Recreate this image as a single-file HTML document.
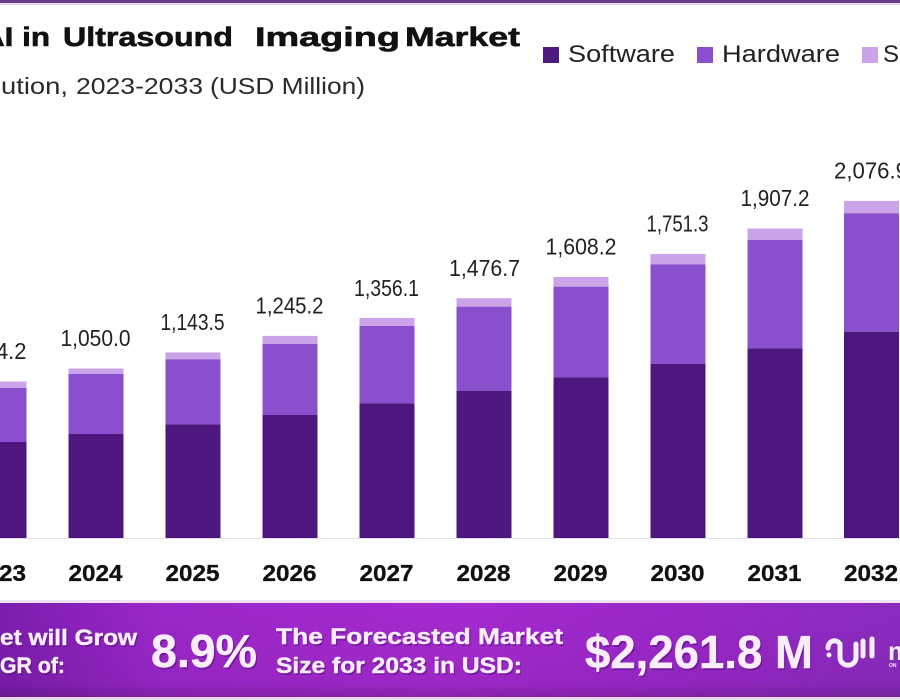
<!DOCTYPE html>
<html>
<head>
<meta charset="utf-8">
<style>
  html,body{margin:0;padding:0;background:#fff;}
  svg{display:block;}
  text{font-family:"Liberation Sans",sans-serif;}
</style>
</head>
<body>
<svg width="900" height="700" viewBox="0 0 900 700" xmlns="http://www.w3.org/2000/svg">
  <defs>
    <linearGradient id="ban" x1="0" y1="0" x2="1" y2="0">
      <stop offset="0" stop-color="#7c1dae"/>
      <stop offset="0.18" stop-color="#9b27c9"/>
      <stop offset="0.5" stop-color="#a52acf"/>
      <stop offset="0.75" stop-color="#9a27c8"/>
      <stop offset="1" stop-color="#8a2bbf"/>
    </linearGradient>
    <linearGradient id="banv" x1="0" y1="0" x2="0" y2="1">
      <stop offset="0" stop-color="#000" stop-opacity="0"/>
      <stop offset="0.85" stop-color="#000" stop-opacity="0.05"/>
      <stop offset="1" stop-color="#000" stop-opacity="0.18"/>
    </linearGradient>
  </defs>

  <rect x="0" y="0" width="900" height="700" fill="#ffffff"/>
  <!-- top border -->
  <rect x="0" y="0" width="900" height="3" fill="#6a3c89"/>
  <rect x="0" y="3" width="900" height="2" fill="#e8d9ef"/>

  <!-- Title -->
  <g font-weight="bold" font-size="27" fill="#111" stroke="#111" stroke-width="0.6">
    <text x="-18" y="46" textLength="68" lengthAdjust="spacingAndGlyphs">AI in</text>
    <text x="63" y="46" textLength="170" lengthAdjust="spacingAndGlyphs">Ultrasound</text>
    <text x="255" y="46" textLength="145" lengthAdjust="spacingAndGlyphs">Imaging</text>
    <text x="405" y="46" textLength="115" lengthAdjust="spacingAndGlyphs">Market</text>
  </g>
  <!-- Subtitle -->
  <g font-size="23" fill="#2a2a2a">
    <text x="0" y="94" text-anchor="end">By Sol</text>
    <text x="1" y="94" textLength="67" lengthAdjust="spacingAndGlyphs">ution,</text>
    <text x="76" y="94" textLength="127" lengthAdjust="spacingAndGlyphs">2023-2033</text>
    <text x="210" y="94" textLength="155" lengthAdjust="spacingAndGlyphs">(USD Million)</text>
  </g>

  <!-- Legend -->
  <rect x="543" y="47" width="16" height="16" fill="#4e1a80"/>
  <text x="568" y="62" font-size="24" fill="#222" textLength="107" lengthAdjust="spacingAndGlyphs">Software</text>
  <rect x="697" y="47" width="16" height="16" fill="#8a4fcc"/>
  <text x="722" y="62" font-size="24" fill="#222" textLength="118" lengthAdjust="spacingAndGlyphs">Hardware</text>
  <rect x="862" y="47" width="16" height="16" fill="#caa3e8"/>
  <text x="883" y="62" font-size="24" fill="#222">Services</text>

  <!-- baseline -->
  <rect x="0" y="538" width="900" height="1" fill="#e2dde6"/>

  <!-- Bars -->
  <g>
    <rect x="-28.5" y="381.5" width="55" height="6.5" fill="#caa3e8"/>
    <rect x="-28.5" y="388" width="55" height="54" fill="#8a4fcc"/>
    <rect x="-28.5" y="442" width="55" height="96" fill="#4e1780"/>
    <rect x="68.5" y="368.5" width="55" height="5.5" fill="#caa3e8"/>
    <rect x="68.5" y="374" width="55" height="60" fill="#8a4fcc"/>
    <rect x="68.5" y="434" width="55" height="104" fill="#4e1780"/>
    <rect x="165.5" y="352.4" width="55" height="6.9" fill="#caa3e8"/>
    <rect x="165.5" y="359.3" width="55" height="65" fill="#8a4fcc"/>
    <rect x="165.5" y="424.3" width="55" height="113.7" fill="#4e1780"/>
    <rect x="262.5" y="335.9" width="55" height="8.1" fill="#caa3e8"/>
    <rect x="262.5" y="344" width="55" height="71" fill="#8a4fcc"/>
    <rect x="262.5" y="415" width="55" height="123" fill="#4e1780"/>
    <rect x="359.5" y="318" width="55" height="8" fill="#caa3e8"/>
    <rect x="359.5" y="326" width="55" height="77.3" fill="#8a4fcc"/>
    <rect x="359.5" y="403.3" width="55" height="134.7" fill="#4e1780"/>
    <rect x="456.5" y="298.3" width="55" height="8.4" fill="#caa3e8"/>
    <rect x="456.5" y="306.7" width="55" height="84" fill="#8a4fcc"/>
    <rect x="456.5" y="390.7" width="55" height="147.3" fill="#4e1780"/>
    <rect x="553.5" y="277" width="55" height="9.7" fill="#caa3e8"/>
    <rect x="553.5" y="286.7" width="55" height="90.6" fill="#8a4fcc"/>
    <rect x="553.5" y="377.3" width="55" height="160.7" fill="#4e1780"/>
    <rect x="650.5" y="254" width="55" height="10.3" fill="#caa3e8"/>
    <rect x="650.5" y="264.3" width="55" height="99.7" fill="#8a4fcc"/>
    <rect x="650.5" y="364" width="55" height="174" fill="#4e1780"/>
    <rect x="747.5" y="228.5" width="55" height="11.5" fill="#caa3e8"/>
    <rect x="747.5" y="240" width="55" height="108.3" fill="#8a4fcc"/>
    <rect x="747.5" y="348.3" width="55" height="189.7" fill="#4e1780"/>
    <rect x="844" y="200.9" width="55" height="12.4" fill="#caa3e8"/>
    <rect x="844" y="213.3" width="55" height="118.4" fill="#8a4fcc"/>
    <rect x="844" y="331.7" width="55" height="206.3" fill="#4e1780"/>
  </g>

  <!-- Value labels -->
  <g font-size="23" fill="#222" text-anchor="middle">
    <text x="-1" y="359" textLength="55" lengthAdjust="spacingAndGlyphs">964.2</text>
    <text x="95.5" y="346" textLength="70" lengthAdjust="spacingAndGlyphs">1,050.0</text>
    <text x="192.5" y="330" textLength="64" lengthAdjust="spacingAndGlyphs">1,143.5</text>
    <text x="289.5" y="313.5" textLength="68" lengthAdjust="spacingAndGlyphs">1,245.2</text>
    <text x="386.5" y="296" textLength="65" lengthAdjust="spacingAndGlyphs">1,356.1</text>
    <text x="484.5" y="276" textLength="71" lengthAdjust="spacingAndGlyphs">1,476.7</text>
    <text x="581" y="254.5" textLength="71" lengthAdjust="spacingAndGlyphs">1,608.2</text>
    <text x="677.5" y="231.5" textLength="62" lengthAdjust="spacingAndGlyphs">1,751.3</text>
    <text x="775" y="206" textLength="69" lengthAdjust="spacingAndGlyphs">1,907.2</text>
    <text x="871" y="178.5" textLength="74" lengthAdjust="spacingAndGlyphs">2,076.9</text>
  </g>

  <!-- Year labels -->
  <g font-size="23" font-weight="bold" fill="#111" stroke="#111" stroke-width="0.3" text-anchor="middle">
    <text x="-1" y="581" textLength="54" lengthAdjust="spacingAndGlyphs">2023</text>
    <text x="95.5" y="581" textLength="54" lengthAdjust="spacingAndGlyphs">2024</text>
    <text x="192.5" y="581" textLength="54" lengthAdjust="spacingAndGlyphs">2025</text>
    <text x="289.5" y="581" textLength="54" lengthAdjust="spacingAndGlyphs">2026</text>
    <text x="386.5" y="581" textLength="54" lengthAdjust="spacingAndGlyphs">2027</text>
    <text x="483.5" y="581" textLength="54" lengthAdjust="spacingAndGlyphs">2028</text>
    <text x="580.5" y="581" textLength="54" lengthAdjust="spacingAndGlyphs">2029</text>
    <text x="677.5" y="581" textLength="54" lengthAdjust="spacingAndGlyphs">2030</text>
    <text x="774.5" y="581" textLength="54" lengthAdjust="spacingAndGlyphs">2031</text>
    <text x="871" y="581" textLength="54" lengthAdjust="spacingAndGlyphs">2032</text>
  </g>

  <!-- Banner -->
  <rect x="0" y="600" width="900" height="3" fill="#f1e3f6"/>
  <rect x="0" y="603" width="900" height="94" fill="url(#ban)"/>
  <rect x="0" y="603" width="900" height="94" fill="url(#banv)"/>
  <rect x="0" y="697" width="900" height="3" fill="#e9d8f1"/>

  <g font-weight="bold" fill="#4a0d6e" fill-opacity="0.45" transform="translate(1.5,2)">
    <text x="0" y="645" font-size="22" textLength="137" lengthAdjust="spacingAndGlyphs">et will Grow</text>
    <text x="0" y="673" font-size="22" textLength="65" lengthAdjust="spacingAndGlyphs">GR of:</text>
    <text x="151" y="667" font-size="46" textLength="106" lengthAdjust="spacingAndGlyphs">8.9%</text>
    <text x="276" y="644" font-size="22" textLength="287" lengthAdjust="spacingAndGlyphs">The Forecasted Market</text>
    <text x="276" y="673" font-size="22" textLength="246" lengthAdjust="spacingAndGlyphs">Size for 2033 in USD:</text>
    <text x="585" y="668" font-size="46" textLength="228" lengthAdjust="spacingAndGlyphs">$2,261.8 M</text>
  </g>
  <g font-weight="bold" fill="#f9ecfb" stroke="#f9ecfb" stroke-width="0.4">
    <text x="0" y="645" font-size="22" text-anchor="end">The Mark</text>
    <text x="0" y="645" font-size="22" textLength="137" lengthAdjust="spacingAndGlyphs">et will Grow</text>
    <text x="0" y="673" font-size="22" text-anchor="end">At the CA</text>
    <text x="0" y="673" font-size="22" textLength="65" lengthAdjust="spacingAndGlyphs">GR of:</text>
    <text x="151" y="667" font-size="46" textLength="106" lengthAdjust="spacingAndGlyphs">8.9%</text>
    <text x="276" y="644" font-size="22" textLength="287" lengthAdjust="spacingAndGlyphs">The Forecasted Market</text>
    <text x="276" y="673" font-size="22" textLength="246" lengthAdjust="spacingAndGlyphs">Size for 2033 in USD:</text>
    <text x="585" y="668" font-size="46" textLength="228" lengthAdjust="spacingAndGlyphs">$2,261.8 M</text>
  </g>

  <!-- logo icon -->
  <g fill="none" stroke="#f9ecfb" stroke-width="5" stroke-linecap="round">
    <path d="M828 648 C828 641 836 638 840 644"/>
    <path d="M840 644 L840 657 C840 668 856 668 856 657 L856 644"/>
    <path d="M863 641 L863 656"/>
    <path d="M872 639 L872 656"/>
  </g>
  <circle cx="829" cy="655" r="2.5" fill="#f9ecfb"/>
  <text x="888" y="660" font-size="26" font-weight="bold" fill="#f9ecfb">m</text>
  <text x="889" y="667" font-size="5" font-weight="bold" fill="#f9ecfb">ON</text>
</svg>
</body>
</html>
